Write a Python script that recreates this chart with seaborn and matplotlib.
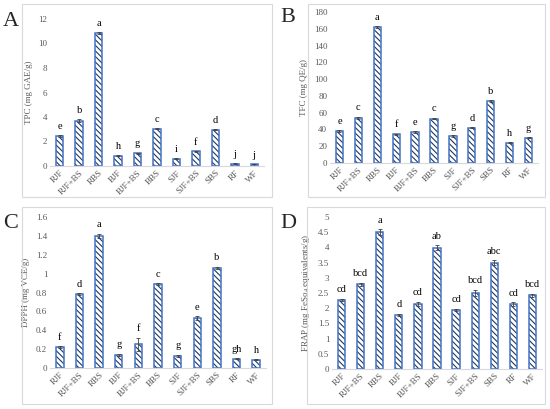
import numpy as np
import matplotlib
matplotlib.use("Agg")
import matplotlib.pyplot as plt
import seaborn as sns
from matplotlib.patches import Rectangle
from matplotlib.ticker import MultipleLocator, FormatStrFormatter

# samples and measured values
samples = ["RJF", "RJF+BS", "RBS", "BJF", "BJF+BS", "BBS", "SJF", "SJF+BS", "SBS", "RF", "WF"]

tpc = [2.45, 3.7, 10.85, 0.85, 1.05, 3.05, 0.6, 1.2, 2.95, 0.2, 0.15]
tpc_err = [0.05, 0.1, 0.05, 0.03, 0.03, 0.03, 0.03, 0.03, 0.05, 0.02, 0.02]
tpc_sig = ["e", "b", "a", "h", "g", "c", "i", "f", "d", "j", "j"]

tfc = [38, 54, 162, 34, 37, 53, 32, 42, 74, 24, 30]
tfc_err = [0.8, 1, 1, 0.8, 0.8, 0.8, 0.8, 0.8, 1, 0.5, 0.5]
tfc_sig = ["e", "c", "a", "f", "e", "c", "g", "d", "b", "h", "g"]

dpph = [0.22, 0.78, 1.40, 0.14, 0.25, 0.89, 0.13, 0.53, 1.06, 0.10, 0.09]
dpph_err = [0.01, 0.01, 0.02, 0.01, 0.07, 0.01, 0.01, 0.02, 0.01, 0.005, 0.005]
dpph_sig = ["f", "d", "a", "g", "f", "c", "g", "e", "b", "gh", "h"]

frap = [2.28, 2.78, 4.5, 1.77, 2.14, 3.99, 1.95, 2.5, 3.5, 2.13, 2.43]
frap_err = [0.03, 0.05, 0.1, 0.04, 0.08, 0.08, 0.04, 0.1, 0.08, 0.06, 0.05]
frap_sig = ["cd", "bcd", "a", "d", "cd", "ab", "cd", "bcd", "abc", "cd", "bcd"]

sns.set_style("white")
plt.rcParams["font.family"] = ["Liberation Serif", "DejaVu Serif"]
plt.rcParams["hatch.linewidth"] = 0.8

W, H = 550, 409
fig = plt.figure(figsize=(W / 100, H / 100), dpi=100)

def px_axes(x0, y0, x1, y1):
    # pixel box (top-left origin) -> figure axes
    return fig.add_axes([x0 / W, 1 - y1 / H, (x1 - x0) / W, (y1 - y0) / H])

def frame(x0, y0, x1, y1):
    fig.patches.append(Rectangle((x0 / W, 1 - y1 / H), (x1 - x0) / W, (y1 - y0) / H,
                                 transform=fig.transFigure, fill=False,
                                 edgecolor="#d9d9d9", linewidth=0.8))

panels = [
    ("A", tpc, tpc_err, tpc_sig, "TPC (mg GAE/g)", 12, 2, "%g",
     (22, 4, 272, 197), (50, 19, 264, 166), (3, 22)),
    ("B", tfc, tfc_err, tfc_sig, "TFC (mg QE/g)", 180, 20, "%g",
     (308, 4, 545, 197), (330, 12, 538, 163), (280, 17)),
    ("C", dpph, dpph_err, dpph_sig, "DPPH (mg VCE/g)", 1.6, 0.2, "%g",
     (22, 207, 272, 404), (50, 217, 266, 368), (3, 224)),
    ("D", frap, frap_err, frap_sig, r"FRAP (mg FeSo$_\mathregular{4}$ equivalents/g)", 5, 0.5, "%g",
     (307, 207, 545, 404), (332, 217, 542, 369), (280, 224)),
]

for letter, vals, errs, sig, ylab, ymax, step, fmt, box, area, lpos in panels:
    frame(*box)
    ax = px_axes(*area)
    # hatched fill
    sns.barplot(x=samples, y=vals, ax=ax, color="white", width=0.38,
                edgecolor="#1f3864", linewidth=0, hatch="\\\\\\\\\\\\", errorbar=None)
    # blue outline
    sns.barplot(x=samples, y=vals, ax=ax, color="#4472c4", width=0.38,
                fill=False, linewidth=1.1, errorbar=None)
    ax.errorbar(range(len(samples)), vals, yerr=errs, fmt="none", ecolor="#404040",
                elinewidth=0.6, capsize=1.5, capthick=0.6)
    for i, (v, e, s) in enumerate(zip(vals, errs, sig)):
        ax.text(i, v + e + ymax * 0.03, s, ha="center", va="bottom", fontsize=7.5, color="black")
    ax.set_xlim(-0.5, len(samples) - 0.5)
    ax.set_ylim(0, ymax)
    ax.yaxis.set_major_locator(MultipleLocator(step))
    ax.yaxis.set_major_formatter(FormatStrFormatter(fmt))
    ax.tick_params(axis="both", length=0, labelsize=6.5, colors="#595959", pad=2)
    plt.setp(ax.get_xticklabels(), rotation=45, ha="right", rotation_mode="anchor")
    for side in ["top", "right", "left"]:
        ax.spines[side].set_visible(False)
    ax.spines["bottom"].set_color("#d9d9d9")
    ax.spines["bottom"].set_linewidth(0.8)
    ax.set_xlabel("")
    ax.set_ylabel(ylab, fontsize=6.5, color="#595959", labelpad=4)
    ax.patch.set_alpha(0)
    fig.text(lpos[0] / W, 1 - lpos[1] / H, letter, fontsize=16, ha="left", va="center")

fig.savefig("out.png", dpi=100)
